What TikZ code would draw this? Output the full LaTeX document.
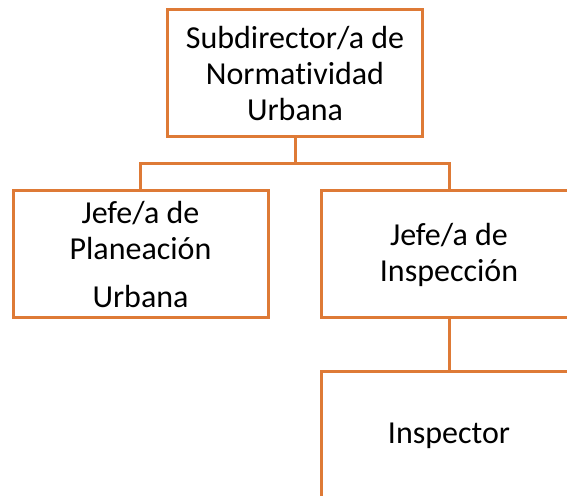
\documentclass[tikz,border=0pt]{standalone}
\usepackage{fontspec}
\setmainfont{Carlito}[Ligatures=NoCommon]
\definecolor{orgline}{HTML}{DE7A36}
\begin{document}
\begin{tikzpicture}[x=1pt,y=1pt,
  box/.style={draw=orgline, line width=3pt, fill=white, minimum width=255pt, minimum height=127pt,
    align=center, inner sep=0pt, font=\fontsize{32}{36}\selectfont},
  conn/.style={draw=orgline, line width=3pt}]
\clip (0,0) rectangle (567,495);
\fill[white] (0,0) rectangle (567,495);
\node[box] (top) at (295,421.5) {Subdirector/a de\\Normatividad\\Urbana};
\node[box] (left) at (140.5,240.5) {Jefe/a de\\Planeación\\[12pt]Urbana};
\node[box] (right) at (449,240.5) {Jefe/a de\\Inspección};
\node[box] (bottom) at (449,59.5) {Inspector};
\coordinate (split) at (295,331);
\draw[conn] (top.south) -- (split);
\draw[conn] (split) -| (left.north);
\draw[conn] (split) -| (right.north);
\draw[conn] (right.south) -- (bottom.north);
\end{tikzpicture}
\end{document}
